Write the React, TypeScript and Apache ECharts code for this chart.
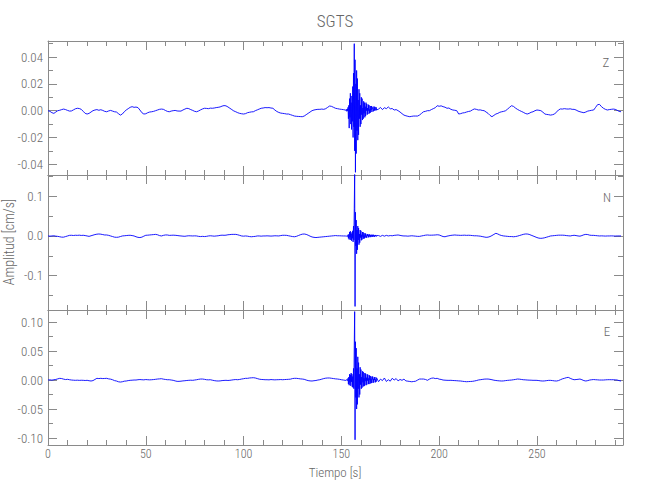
import { useEffect, useRef } from "react";
import * as echarts from "echarts";

const TITLE = "SGTS";
const X_NAME = "Tiempo [s]";
const Y_NAME = "Amplitud [cm/s]";
const COMPONENTS = ["Z", "N", "E"];

// sampling of the traces (seconds)
const SEG1_START = 0;
const SEG1_STEP = 1;
const SEG2_START = 152.2;
const SEG2_STEP = 0.2;
const SEG3_START = 169;
const SEG3_STEP = 1;

const X_MIN = 0;
const X_MAX = 294;
const X_MAJOR = [0, 50, 100, 150, 200, 250];
const X_MINOR = [10, 20, 30, 40, 60, 70, 80, 90, 110, 120, 130, 140, 160, 170, 180, 190, 210, 220, 230, 240, 260, 270, 280, 290];

// amplitudes in 10^-3 cm/s
const zPre = [0, -0.5, -1.5, -2, -1, 0, 0.3, 0.8, 1.2, 0.8,
  0.2, -0.3, -0.2, 0.6, 1.4, 1.8, 1.6, 1, -0.5, -2,
  -2.5, -2, -1, 0, 0.5, 0.8, 0.3, 0.7, 0.2, -0.5,
  -0.8, -0.2, 0.2, -0.3, -0.8, -1, -2.2, -3.3, -2.5, -0.8,
  0.5, 1.5, 2.5, 3, 2.5, 2.7, 2.3, 0.5, -1.5, -2.5,
  -2.3, -1.5, -1, -0.8, -0.5, 0, 0.5, 1, 1.2, 1,
  0.2, -0.5, -0.8, -0.3, 0, 0.2, -0.2, -0.3, -0.3, 0.5,
  1.2, 1.8, 1.5, 0.8, 0.2, -0.5, -0.8, -0.2, 0.6, 1.3,
  1.8, 1.7, 1.5, 1.9, 1.8, 2, 2.3, 2.5, 2.8, 3.4,
  3.8, 3.6, 2.8, 1.8, 0.8, -0.2, -0.8, -1.5, -2, -2.3,
  -2.5, -2.2, -1.5, -1.2, -0.9, -0.8, 0, 0.6, 1.2, 1.8,
  2, 2.3, 2.2, 2.3, 2, 1.8, 0.5, -0.6, -1.3, -1.8,
  -2, -2.2, -2.5, -2.5, -3, -3.5, -4, -4.2, -4.3, -4.4,
  -4.5, -4, -3, -2, -1, 0, 0.5, 0.8, 1, 1,
  1.2, 1, 1.5, 2.5, 3.5, 3.2, 2.5, 1.8, 1.5, 1.2,
  1, 0.8, 0.5];
const zEvent = [0.8, 0.2, 0.9, -0.5, 1.2, 0, 2.5, -6, 4, -13,
  9, -5, 13, -10, 6, -14, 11, -8, 18, -20,
  28, -12, 50, -30, 38, -46, 20, -32, 30, -15,
  24, -22, 8, -18, 16, -6, 13, -12, 4, -10,
  10, -3, 9, -7, 2, -6, 7, -2, 6, -5,
  3, -4, 6, 0, 5, -3, 2, -2.5, 4.5, 0,
  4, -2, 1, -1.5, 3.5, 0.5, 3.5, -1, 1, 2.5,
  3, -0.5, 1.5, 3, 0, 2.8, 1, 0.2, 2.5, 0.5];
const zPost = [1.2, 2.4, 0.8, 2.2, 1.5, 2.8, 1.4, 1.6, 0.5, 0.8,
  0, -1, -2.2, -3.3, -3.8, -4.2, -4.5, -4.2, -4, -4,
  -4, -3.2, -2, -0.8, -0.5, 0, 0, 0.8, 1.5, 2.2,
  3.7, 3.3, 3.6, 3, 2.6, 1.8, 2, 1, 0.5, 0.3,
  0, -2.5, -2.2, -1.7, -1.5, -1, -0.6, -0.3, 0.6, 1.3,
  1, 0.5, 0.6, 0.2, 0, -1, -2, -3.5, -4.5, -3.5,
  -2.5, -2, -1.2, -0.8, -0.5, 0, 1.2, 2.5, 3.7, 3.2,
  2, 1, 0.2, -0.5, -1.2, -2, -2.5, -2, -1.2, -0.8,
  0, 0.5, 0.3, 0, -1, -2.5, -2.8, -3, -3.3, -3,
  -2.5, -1, 0.5, 1.3, 1.2, 1.5, 1.3, 1.2, 1.4, 1,
  1, 0.5, -0.3, -0.8, -1.2, -1.5, -1, -0.3, 0, 0.3,
  0.5, 2.5, 4.5, 4.7, 3, 1.8, 1, 0.5, 0.8, 1,
  1.2, 1, 0.3, -0.5, -0.8];

const nPre = [0, -0.5, 0, 0.5, -0.5, -1, -2, -3, -3, -1.5,
  0, 1.5, 1.7, 1.2, 1.8, 1.5, 2, 1.3, 1.7, 1,
  0, -1, 0.5, 2, 3.5, 4.5, 5, 4.5, 3.5, 2.5,
  2.5, 1.5, 0, -1.5, -3, -3.4, -3, -1.5, 0, 0.5,
  1, 1.5, 1.7, 1, 0, -2, -3.5, -4, -3, -0.5,
  1.7, 2, 2.5, 3, 3.5, 4, 3, 1, 0, 1.5,
  2.5, 2.5, 1.5, 1.7, 2, 1.7, 1.2, 0.5, 0, -0.5,
  -0.8, 0, 0.5, 0.3, 0, 0.3, 0, -1, -1.5, -1,
  -1.5, -1, 0, 0.5, 0, -0.5, 0, 0.5, 1.5, 2,
  1.7, 2, 3, 3.5, 4, 4, 4, 3, 1.5, 0,
  -0.5, 0, -0.5, -1.5, -2, -1.5, -1, 0, 0, -0.5,
  0, 0, 0.3, 0, -0.3, 0, 0.5, 0.3, 0, 1,
  1.7, 1.7, 1.5, 0.5, -0.5, -1.5, -2, -1, 1, 3,
  4.5, 5, 4, 2, -0.5, -2.5, -3.5, -4, -3.5, -3,
  -2.5, -2, -1.5, -1, -0.5, 0, 0.5, 1, 0.5, 0.5,
  0.2, 0, 0];
const nEvent = [0.5, -0.5, 0.8, -0.3, 0.5, -1, 3, -6, 4, -9,
  10, -3, 12, -10, 5, -12, 9, -6, 13, -15,
  25, -10, 70, 160, -178, 60, -25, 40, -45, 15,
  -35, 25, -10, 20, -22, 5, -17, 15, -4, 13,
  -11, 3, -9, 10, -2, 9, -7, 1, -6, 7,
  -2, 6, -5, 1, -4, 5, 0, 5, -3.5, 2,
  -3, 4, 0, 2, -3, 3.5, -1, 1.5, -2.5, 3,
  0, 3, -2, 1, -2, 2.5, 0, 2.5, -1.5, 1];
const nPost = [1, -1, 1.5, -0.5, 1.5, 0, 1, 0.5, 1.5, 2,
  2.5, 1.5, 0.5, 0, 0, -0.5, 0, 0.5, 0, -0.5,
  -1, -1, 0, 1, 2, 2.5, 2, 2, 2.2, 2.5,
  3, 2.5, 0.5, -1.5, -2, -0.5, 0.5, 1.5, 2, 2.5,
  2, 1.8, 1.5, 1.7, 2, 1.5, 1.8, 1.5, 1, 0.5,
  0.5, 0, -0.5, -1.5, -2.5, -3.4, -3, -1.5, 1, 4,
  6.7, 5, 2.5, 1, 0, -0.5, -1, -1.5, -1.5, -2,
  -1.5, -0.5, 1, 2.5, 4, 5, 5, 4, 2, 0,
  -2, -4, -5.5, -6, -5.5, -4.5, -3, -1.5, 0, 0.5,
  1, 1.5, 2, 2, 2, 1.7, 1, 0.5, 0, 1,
  1.7, 1, 0, -0.5, 1, 3, 4, 3.5, 2, 1.5,
  1.5, 1, 0.5, 0, 0.3, 0, -0.3, 0, 0, 0.2,
  0, -0.2, 0, 0, 0];

const ePre = [0, 0.3, -0.2, 0.5, 1, 2, 2.9, 2.5, 1.5, 0.8,
  1.2, 0.5, 0, -0.3, -0.5, -0.3, -0.6, -0.4, -0.5, -0.8,
  -0.5, -1.2, -1.7, -1, 1, 2.9, 2.5, 2.9, 2.5, 2.7,
  2.9, 2, 1.5, 0.5, -1, -1.7, -3, -3.5, -3, -2,
  -1.7, -1, -0.5, -0.3, 0, 0, 0.5, 0.8, 0.5, 0.3,
  0.8, 0.5, 0.3, 0.5, 0.8, 1.2, 1.7, 2, 2.3, 1.5,
  1, 0.5, 0.5, 0, -0.5, -1.5, -2.3, -2.3, -2, -1.5,
  -1.2, -0.8, -0.5, -0.3, -0.5, 0, 0.5, 1.2, 1.7, 1.7,
  1.2, 0.5, 0.3, 0.5, -0.3, -1, -1.5, -1.7, -1.5, -1,
  -0.7, -0.5, -0.8, -0.5, 0, 0.5, 0.8, 0.5, 1, 1.7,
  2.3, 2.9, 2.9, 3.5, 3.8, 4, 3.5, 2.5, 1.5, 1,
  0.8, 0.5, 0.5, 0.3, 0.8, 0.5, 0.3, 0.5, 0.6, 0.8,
  0.5, 0.8, 1, 1.2, 1.5, 2.5, 2.9, 2.9, 2.5, 2,
  1.7, 1.2, 0, -1, -1.5, -1.7, -1.2, -0.8, 0, 0.5,
  1.5, 2.5, 3.2, 3.5, 3.5, 3, 2.5, 2, 1.7, 1.2,
  0.5, 0, -0.5];
const eEvent = [0, -1, 0.5, -0.5, 0.5, -1, 3, -7, 5, -9,
  10, -4, 9, -10, 12, -3, 10, -12, 6, -13,
  20, -15, 60, 118, -103, 66, -30, 55, -50, 20,
  -42, 40, -15, 30, -30, 10, -25, 22, -8, 18,
  -15, 5, -13, 15, -4, 14, -11, 3, -10, 12,
  -2, 11, -9, 4, -8, 10, -1, 9, -7, 3,
  -7, 8, 0, 7, -6, 2, -5, 6, 1, 6,
  -5, 2, -4, 5, 0, 5, -4, 1, -3, 4];
const ePost = [-3, 1.5, -1, 3.5, -2.5, 0.5, -2, 3, 0, 2.5,
  -1.5, 1, -0.5, 1.5, -1.5, -2, -2.5, -3, -2.5, -2,
  0, 1.7, 1.7, 1.7, 1, -0.5, 1.5, 3, 3.5, 2.5,
  2.9, 1.5, 1, 0, -0.3, -0.5, -0.6, -0.5, -0.8, -1,
  -1.2, -1.5, -1.7, -2.2, -2.6, -2.9, -2.7, -2.5, -2.3, -1.7,
  -1, 0, 0.5, 1, 1.5, 1.7, 1.7, 1.2, 0.5, -0.3,
  -0.8, -1.2, -1.5, -1.7, -1.5, -1, -0.6, -0.3, 0, 0.5,
  1, 1.7, 1.5, 1, 0.5, 0.3, 0, -0.2, -0.3, -0.5,
  -0.5, -0.6, -1, -1.5, -1.7, -1.5, -1, -0.6, -0.6, -1,
  -1.5, -1.7, -1, 0.5, 2, 2.9, 4, 4.6, 3, 1.5,
  0.5, 0.8, 1.2, 1.7, 0.5, -1, -1.7, -1, 0, 0.5,
  0.8, 0.5, 0.3, 0, 0, 0, 0.3, 0.5, 0.6, 0.5,
  0.5, 0.3, 0, -1, -1.7];

// y axis ranges and ticks (cm/s)
const zRange = [-0.048, 0.052];
const nRange = [-0.187, 0.154];
const eRange = [-0.112, 0.1207];
const zMajor = [-0.04, -0.02, 0, 0.02, 0.04];
const zMinor = [-0.03, -0.01, 0.01, 0.03, 0.05];
const nMajor = [-0.1, 0, 0.1];
const nMinor = [-0.15, -0.05, 0.05, 0.15];
const eMajor = [-0.1, -0.05, 0, 0.05, 0.1];
const eMinor = [-0.075, -0.025, 0.025, 0.075];
const DIGITS = [2, 1, 2];

const AXIS_COLOR = "#8a8a8a";
const TEXT_COLOR = "#666666";
const FONT = "'Roboto Condensed', 'Liberation Sans Narrow', 'Arial Narrow', 'Liberation Sans', sans-serif";
const FONT_WEIGHT = 300;
const GRID_TOPS = [41, 175, 310];
const GRID_HEIGHTS = [134, 135, 135];
const GRID_LEFT = 48;
const GRID_WIDTH = 575;

function buildTrace(pre: number[], ev: number[], post: number[]) {
  const pts: number[][] = [];
  pre.forEach((v, i) => pts.push([SEG1_START + i * SEG1_STEP, v / 1000]));
  ev.forEach((v, i) => pts.push([Math.round((SEG2_START + i * SEG2_STEP) * 100) / 100, v / 1000]));
  post.forEach((v, i) => pts.push([SEG3_START + i * SEG3_STEP, v / 1000]));
  return pts;
}

export default function App() {
  const ref = useRef<HTMLDivElement>(null);
  useEffect(() => {
    if (!ref.current) return;
    const chart = echarts.init(ref.current, undefined, { renderer: "svg" });
    const traces = [buildTrace(zPre, zEvent, zPost), buildTrace(nPre, nEvent, nPost), buildTrace(ePre, eEvent, ePost)];
    const ranges = [zRange, nRange, eRange];
    const majors = [zMajor, nMajor, eMajor];
    const minors = [zMinor, nMinor, eMinor];

    const grids: any[] = [];
    const xAxes: any[] = [];
    const yAxes: any[] = [];
    const series: any[] = [];

    const xDef = (g: number, pos: string, ticks: number[], len: number, labels: boolean, line: boolean) => ({
      type: "value", gridIndex: g, position: pos, min: X_MIN, max: X_MAX,
      axisLine: { show: line, onZero: false, lineStyle: { color: AXIS_COLOR, width: 1 } },
      axisTick: { show: true, inside: true, length: len, customValues: ticks, lineStyle: { color: AXIS_COLOR, width: 1 } },
      axisLabel: labels
        ? { show: true, customValues: X_MAJOR, color: TEXT_COLOR, fontFamily: FONT, fontWeight: FONT_WEIGHT, fontSize: 12, margin: 3 }
        : { show: false },
      splitLine: { show: false },
    });
    const yDef = (g: number, pos: string, ticks: number[], len: number, labels: boolean, line: boolean) => ({
      type: "value", gridIndex: g, position: pos, min: ranges[g][0], max: ranges[g][1],
      axisLine: { show: line, onZero: false, lineStyle: { color: AXIS_COLOR, width: 1 } },
      axisTick: { show: true, inside: true, length: len, customValues: ticks, lineStyle: { color: AXIS_COLOR, width: 1 } },
      axisLabel: labels
        ? {
            show: true, customValues: majors[g], color: TEXT_COLOR, fontFamily: FONT, fontWeight: FONT_WEIGHT, fontSize: 13, margin: 5,
            formatter: (v: number) => Number(v).toFixed(DIGITS[g]).replace("-0.00", "0.00").replace(/^-0\.0$/, "0.0"),
          }
        : { show: false },
      splitLine: { show: false },
    });

    for (let g = 0; g < 3; g++) {
      grids.push({ left: GRID_LEFT, top: GRID_TOPS[g], width: GRID_WIDTH, height: GRID_HEIGHTS[g], containLabel: false, outerBoundsMode: "none" });
      xAxes.push(xDef(g, "bottom", X_MAJOR, 9, g === 2, true));
      xAxes.push(xDef(g, "bottom", X_MINOR, 5, false, false));
      xAxes.push(xDef(g, "top", X_MAJOR, 9, false, true));
      xAxes.push(xDef(g, "top", X_MINOR, 5, false, false));
      yAxes.push(yDef(g, "left", majors[g], 9, true, true));
      yAxes.push(yDef(g, "left", minors[g], 5, false, false));
      yAxes.push(yDef(g, "right", majors[g], 9, false, true));
      yAxes.push(yDef(g, "right", minors[g], 5, false, false));
      series.push({
        type: "line", name: COMPONENTS[g], xAxisIndex: 4 * g, yAxisIndex: 4 * g,
        data: traces[g], showSymbol: false, symbol: "none", clip: true, silent: true,
        lineStyle: { color: "#0000ff", width: 0.9 },
      });
    }

    const labelPos = [[606, 62], [607, 197], [607, 331]];
    const txt = (size: number) => `${FONT_WEIGHT} ${size}px ${FONT}`;
    const graphic: any[] = [
      { type: "text", x: 335, y: 21, style: { text: TITLE, fill: TEXT_COLOR, font: txt(17), align: "center", verticalAlign: "middle" } },
      { type: "text", x: 335, y: 472, style: { text: X_NAME, fill: TEXT_COLOR, font: txt(13), align: "center", verticalAlign: "middle" } },
      { type: "text", x: 9, y: 242, rotation: Math.PI / 2, style: { text: Y_NAME, fill: TEXT_COLOR, font: txt(14), align: "center", verticalAlign: "middle" } },
      ...COMPONENTS.map((c, i) => ({
        type: "text", x: labelPos[i][0], y: labelPos[i][1],
        style: { text: c, fill: TEXT_COLOR, font: txt(13), align: "center", verticalAlign: "middle" },
      })),
    ];

    chart.setOption({
      animation: false,
      backgroundColor: "#ffffff",
      grid: grids,
      xAxis: xAxes,
      yAxis: yAxes,
      series,
      graphic,
    });
    return () => chart.dispose();
  }, []);
  return <div ref={ref} style={{ position: "fixed", left: 0, top: 0, width: 650, height: 500, background: "#fff" }} />;
}
